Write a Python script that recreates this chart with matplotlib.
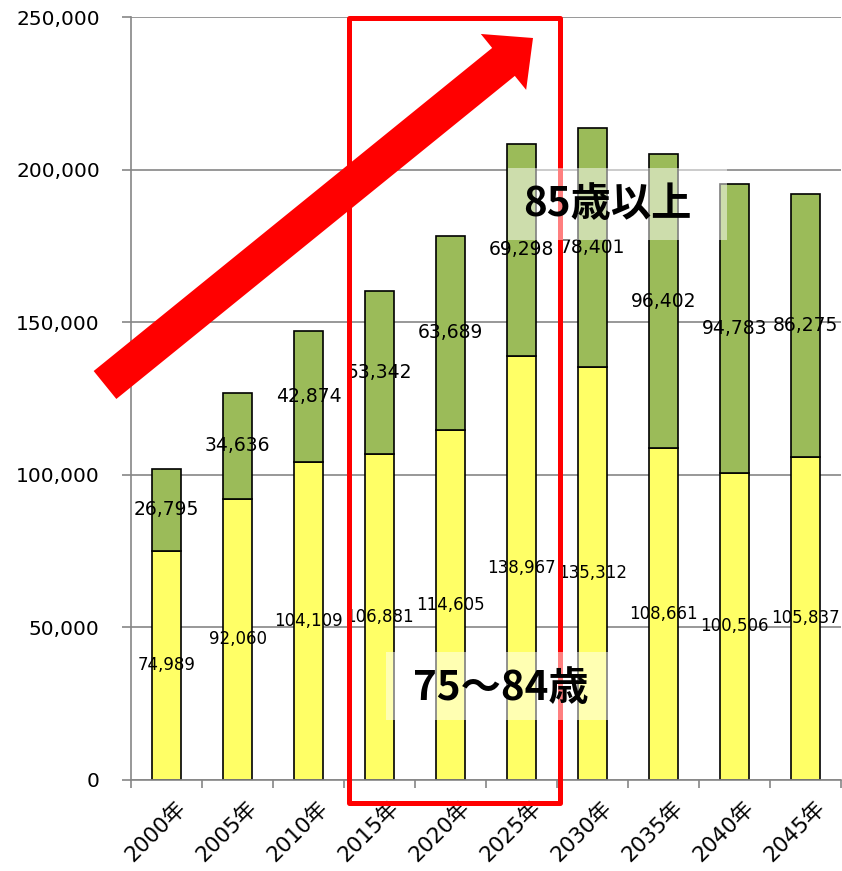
import numpy as np
import matplotlib
matplotlib.use("Agg")
import matplotlib.pyplot as plt
from matplotlib.patches import Rectangle, Polygon
from matplotlib.ticker import FuncFormatter, FixedLocator
from matplotlib.transforms import ScaledTranslation

plt.rcParams['font.family'] = ['DejaVu Sans', 'Noto Sans CJK JP']

years = ["2000年", "2005年", "2010年", "2015年", "2020年", "2025年",
         "2030年", "2035年", "2040年", "2045年"]
age75_84 = [74989, 92060, 104109, 106881, 114605, 138967, 135312, 108661, 100506, 105837]
age85plus = [26795, 34636, 42874, 53342, 63689, 69298, 78401, 96402, 94783, 86275]
label_75_84 = "75～84歳"
label_85 = "85歳以上"

W, H = 842, 871
fig = plt.figure(figsize=(W / 100, H / 100), dpi=100)
ax = fig.add_axes([131 / W, 1 - 779.5 / H, 710 / W, (779.5 - 17) / H])

x = np.arange(len(years))
yellow = "#FFFF66"
green = "#9BBB59"
grid_c = "#868686"

ax.bar(x, age75_84, width=0.4, color=yellow, edgecolor="black", linewidth=1.2, zorder=2)
ax.bar(x, age85plus, width=0.4, bottom=age75_84, color=green, edgecolor="black",
       linewidth=1.2, zorder=2)

for i in range(len(x)):
    ax.text(x[i], age75_84[i] / 2, f"{age75_84[i]:,}", ha="center", va="center",
            fontsize=12, zorder=3)
    ax.text(x[i], age75_84[i] + age85plus[i] / 2, f"{age85plus[i]:,}", ha="center",
            va="center", fontsize=13.5, zorder=3)

ax.set_xlim(-0.5, len(years) - 0.5)
ax.set_ylim(0, 250000)
ax.set_yticks(np.arange(0, 250001, 50000))
ax.yaxis.set_major_formatter(FuncFormatter(lambda v, p: f"{int(v):,}"))
ax.tick_params(axis="y", length=6.5, width=1.2, color=grid_c, pad=16, labelsize=14.5)
ax.grid(axis="y", color=grid_c, linewidth=1.2, zorder=0)
ax.set_axisbelow(True)

ax.set_xticks(x)
ax.set_xticklabels(years, rotation=45, ha="right", va="top", rotation_mode="anchor",
                   fontsize=15.5)
ax.tick_params(axis="x", which="major", length=0, pad=13)
ax.xaxis.set_minor_locator(FixedLocator(np.arange(-0.5, len(years), 1.0)))
ax.tick_params(axis="x", which="minor", length=5.5, width=1.2, color=grid_c)

for lbl in ax.get_xticklabels():
    lbl.set_transform(lbl.get_transform() + ScaledTranslation(9 / 100, 0, fig.dpi_scale_trans))

for s in ["top", "right"]:
    ax.spines[s].set_visible(False)
for s in ["left", "bottom"]:
    ax.spines[s].set_color(grid_c)
    ax.spines[s].set_linewidth(1.2)


def fp(px, py):
    return (px / W, 1 - py / H)


# red rectangle
(x0, y0), (x1, y1) = fp(349, 802.5), fp(559.5, 18)
rect = Rectangle((x0, y0), x1 - x0, y1 - y0, transform=fig.transFigure, fill=False,
                 edgecolor="#FF0000", linewidth=3.6, joinstyle="round", zorder=4, clip_on=False)
ax.add_artist(rect)

# red arrow
T = np.array([105.0, 385.0])
P = np.array([533.0, 38.0])
u = (P - T) / np.linalg.norm(P - T)
n = np.array([-u[1], u[0]])
w, hw, hl = 36.0, 72.0, 38.0
neck = P - hl * u
pts = [T + w / 2 * n, neck + w / 2 * n, neck + hw / 2 * n, P,
       neck - hw / 2 * n, neck - w / 2 * n, T - w / 2 * n]
pts_f = [fp(p[0], p[1]) for p in pts]
arrow = Polygon(pts_f, closed=True, transform=fig.transFigure, facecolor="#FF0000",
                edgecolor="none", zorder=4, clip_on=False)
ax.add_artist(arrow)

# label boxes
for (bx0, by0, bx1, by1) in [(508, 168, 727, 240), (386, 652, 608, 720)]:
    (fx0, fy0), (fx1, fy1) = fp(bx0, by1), fp(bx1, by0)
    r = Rectangle((fx0, fy0), fx1 - fx0, fy1 - fy0, transform=fig.transFigure,
                  facecolor="white", alpha=0.5, edgecolor="none", zorder=5, clip_on=False)
    ax.add_artist(r)

tx, ty = fp(607, 204)
ax.text(tx, ty, label_85, transform=fig.transFigure, ha="center", va="center",
        fontsize=29, fontweight="bold", family=["Noto Sans CJK JP"], zorder=6)
tx, ty = fp(501, 689)
ax.text(tx, ty, label_75_84, transform=fig.transFigure, ha="center", va="center",
        fontsize=29, fontweight="bold", family=["Noto Sans CJK JP"], zorder=6)

fig.savefig("out.png", dpi=100)
